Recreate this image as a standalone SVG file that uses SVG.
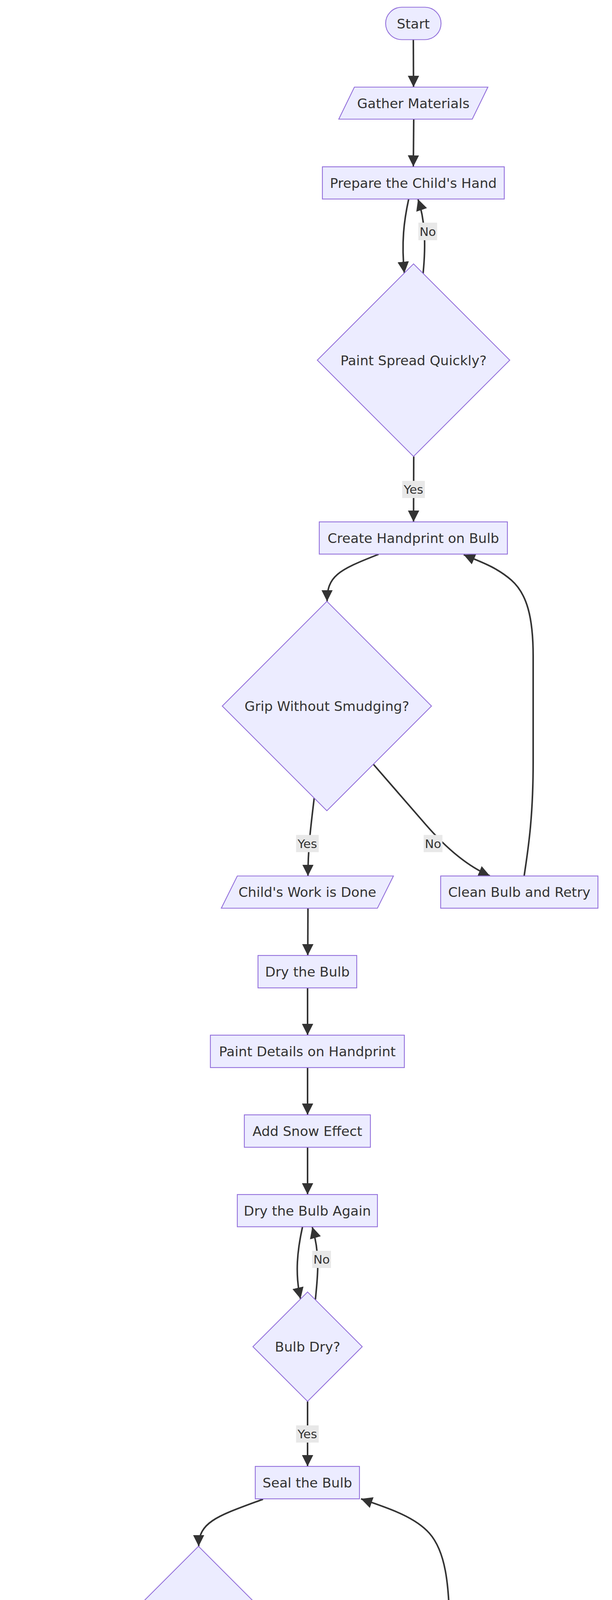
<svg xmlns="http://www.w3.org/2000/svg" width="1568" height="6058" viewBox="0 0 1568 6058">
<style>
.node{fill:#ECECFF;stroke:#9370DB;stroke-width:2.2}
.lbl{font-family:"DejaVu Sans","Liberation Sans",sans-serif;font-size:34.5px;fill:#333333;text-anchor:middle}
.elbl{font-family:"DejaVu Sans","Liberation Sans",sans-serif;font-size:31px;fill:#333333;text-anchor:middle}
.edge{fill:none;stroke:#333333;stroke-width:4}
.elbg{fill:#e8e8e8;stroke:none}
</style>
<defs>
<marker id="arrow" viewBox="0 0 10 10" refX="10" refY="5" markerUnits="userSpaceOnUse" markerWidth="29" markerHeight="29" orient="auto">
<path d="M0,0 L10,5 L0,10 z" fill="#333333"/>
</marker>
</defs>
<rect width="1568" height="6058" fill="#ffffff"/>
<g id="edges">
<path class="edge" marker-end="url(#arrow)" d="M1059,101.5 L1059.5,223"/>
<path class="edge" marker-end="url(#arrow)" d="M1060,305 L1059,426.5"/>
<path class="edge" marker-end="url(#arrow)" d="M1047,510 C1035,565 1028,620 1036,699"/>
<path class="edge" marker-end="url(#arrow)" d="M1084,700 C1092,620 1088,560 1071,510"/>
<path class="edge" marker-end="url(#arrow)" d="M1060,1168.5 L1059.5,1336"/>
<path class="edge" marker-end="url(#arrow)" d="M970,1419 C865,1460 838,1475 838,1539.5"/>
<path class="edge" marker-end="url(#arrow)" d="M805,2043 C797,2110 789,2170 789,2242.5"/>
<path class="edge" marker-end="url(#arrow)" d="M957,1957 L1090,2110 C1116,2140 1180,2210 1255,2242"/>
<path class="edge" marker-end="url(#arrow)" d="M1343,2242 C1352,2180 1366,2100 1366,1950 L1366,1680 C1366,1580 1350,1520 1310,1485 C1270,1450 1225,1436 1188,1420"/>
<path class="edge" marker-end="url(#arrow)" d="M789,2325 L788.5,2446"/>
<path class="edge" marker-end="url(#arrow)" d="M788,2529 L788,2650"/>
<path class="edge" marker-end="url(#arrow)" d="M788,2733 L788,2854"/>
<path class="edge" marker-end="url(#arrow)" d="M788,2937 L788,3058"/>
<path class="edge" marker-end="url(#arrow)" d="M775,3141 C762,3200 755,3260 770,3325"/>
<path class="edge" marker-end="url(#arrow)" d="M808,3327 C815,3260 820,3210 800,3141"/>
<path class="edge" marker-end="url(#arrow)" d="M788,3587.5 L788,3754"/>
<path class="edge" marker-end="url(#arrow)" d="M674,3838 C560,3880 509,3895 509,3958.5"/>
<path class="edge" marker-end="url(#arrow)" d="M1128,4703.5 C1140,4640 1152,4560 1152,4440 L1152,4185 C1152,4050 1140,3970 1100,3925 C1060,3880 985,3858 925,3837"/>
<path class="edge" marker-end="url(#arrow)" d="M474,4502 C466,4570 458,4640 458,4703.5"/>
<path class="edge" marker-end="url(#arrow)" d="M646,4400 L805,4565 C833,4594 950,4680 1010,4703.5"/>
<path class="edge" marker-end="url(#arrow)" d="M445,4786 C432,4850 424,4910 432,4979"/>
<path class="edge" marker-end="url(#arrow)" d="M484,4978 C491,4910 492,4850 470,4786"/>
<path class="edge" marker-end="url(#arrow)" d="M458.5,5523 L458.5,5689"/>
<path class="edge" marker-end="url(#arrow)" d="M460,5772 L458.5,5893"/>
</g>
<g id="edge-labels">
<g><rect class="elbg" x="1072" y="570" width="48" height="45"/><text class="elbl" x="1096" y="603.8">No</text></g>
<g><rect class="elbg" x="1030.5" y="1231" width="58" height="44"/><text class="elbl" x="1059.5" y="1264.3">Yes</text></g>
<g><rect class="elbg" x="758.5" y="2137.5" width="58" height="44"/><text class="elbl" x="787.5" y="2170.8">Yes</text></g>
<g><rect class="elbg" x="1085.5" y="2137.5" width="48" height="44"/><text class="elbl" x="1109.5" y="2170.8">No</text></g>
<g><rect class="elbg" x="800" y="3202" width="48" height="44"/><text class="elbl" x="824" y="3235.3">No</text></g>
<g><rect class="elbg" x="758.5" y="3649" width="58" height="44"/><text class="elbl" x="787.5" y="3682.3">Yes</text></g>
<g><rect class="elbg" x="429.5" y="4597" width="58" height="45"/><text class="elbl" x="458.5" y="4630.8">Yes</text></g>
<g><rect class="elbg" x="814" y="4597" width="48" height="45"/><text class="elbl" x="838" y="4630.8">No</text></g>
<g><rect class="elbg" x="470.5" y="4847" width="48" height="44"/><text class="elbl" x="494.5" y="4880.3">No</text></g>
<g><rect class="elbg" x="429.5" y="5584" width="58" height="44"/><text class="elbl" x="458.5" y="5617.3">Yes</text></g>
</g>
<g id="nodes">
<g id="start"><rect class="node" x="988" y="18.5" width="142" height="83" rx="41.5" ry="41.5"/><text class="lbl" x="1059" y="72.5">Start</text></g>
<g id="gather"><polygon class="node" points="908,223 1250,223 1210,305 868,305"/><text class="lbl" x="1059" y="276.6">Gather Materials</text></g>
<g id="prepare"><rect class="node" x="826" y="427" width="466" height="82.5"/><text class="lbl" x="1059" y="480.6">Prepare the Child's Hand</text></g>
<g id="paintSpread"><polygon class="node" points="1059.5,675.5 1306,922 1059.5,1168.5 813,922"/><text class="lbl" x="1059.5" y="934.6">Paint Spread Quickly?</text></g>
<g id="create"><rect class="node" x="818" y="1336" width="482" height="82.5"/><text class="lbl" x="1059" y="1389.6">Create Handprint on Bulb</text></g>
<g id="grip"><polygon class="node" points="837.5,1539.5 1105.5,1807.5 837.5,2075.5 569.5,1807.5"/><text class="lbl" x="837.5" y="1820">Grip Without Smudging?</text></g>
<g id="childDone"><polygon class="node" points="608,2242.5 1008,2242.5 967,2325 567,2325"/><text class="lbl" x="787.5" y="2296">Child's Work is Done</text></g>
<g id="clean"><rect class="node" x="1129" y="2242.5" width="403" height="82.5"/><text class="lbl" x="1330.5" y="2296">Clean Bulb and Retry</text></g>
<g id="dry"><rect class="node" x="661" y="2446" width="253" height="83"/><text class="lbl" x="787.5" y="2500">Dry the Bulb</text></g>
<g id="paintDetails"><rect class="node" x="539" y="2650" width="497" height="83"/><text class="lbl" x="787.5" y="2704">Paint Details on Handprint</text></g>
<g id="snow"><rect class="node" x="626" y="2854" width="323" height="83"/><text class="lbl" x="787.5" y="2908">Add Snow Effect</text></g>
<g id="dryAgain"><rect class="node" x="608" y="3058" width="359" height="82.5"/><text class="lbl" x="787.5" y="3111.6">Dry the Bulb Again</text></g>
<g id="bulbDry"><polygon class="node" points="788,3307.5 928,3447.5 788,3587.5 648,3447.5"/><text class="lbl" x="788" y="3460">Bulb Dry?</text></g>
<g id="seal"><rect class="node" x="654" y="3754" width="267" height="83"/><text class="lbl" x="787.5" y="3808">Seal the Bulb</text></g>
<g id="sealant"><polygon class="node" points="508.5,3958.5 797.5,4247.5 508.5,4536.5 219.5,4247.5"/><text class="lbl" x="508.5" y="4260">Sealant Applied Correctly?</text></g>
<g id="attach"><rect class="node" x="181" y="4703.5" width="555" height="82.5"/><text class="lbl" x="458.5" y="4757.6">Attach Ribbon or Bulb Hanger</text></g>
<g id="correct"><rect class="node" x="858" y="4703.5" width="517" height="82.5"/><text class="lbl" x="1116.5" y="4757.6">Correct Sealant Application</text></g>
<g id="ornament"><polygon class="node" points="458.5,4953 743.5,5238 458.5,5523 173.5,5238"/><text class="lbl" x="458.5" y="5250.6">Ornament Ready to Hang?</text></g>
<g id="finished"><polygon class="node" points="60,5689 898,5689 858,5772 19,5772"/><text class="lbl" x="458.5" y="5743">Finished Handprint Christmas Bulb Ornament</text></g>
<g id="end"><rect class="node" x="398" y="5893" width="121" height="82" rx="41" ry="41"/><text class="lbl" x="458.5" y="5946.6">End</text></g>
</g>
</svg>
